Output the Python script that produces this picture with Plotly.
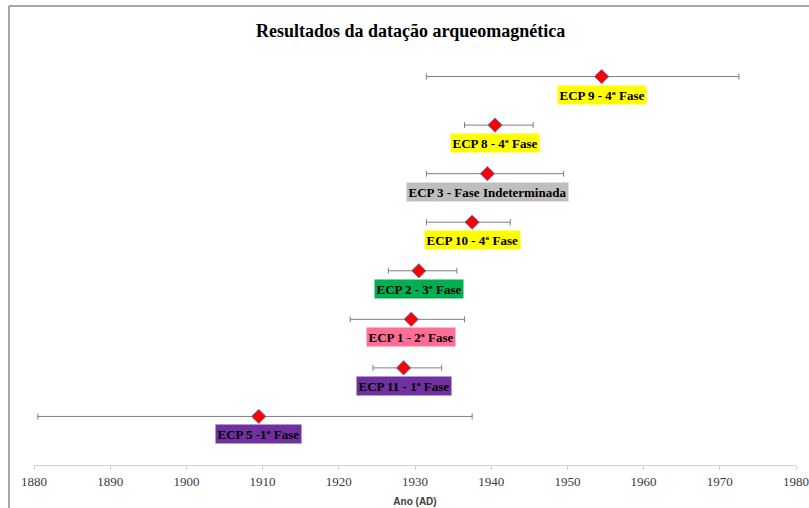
import plotly.graph_objects as go

# Data (order bottom -> top)
samples = ["ECP 5 -1ª Fase", "ECP 11 - 1ª Fase", "ECP 1 - 2ª Fase", "ECP 2 - 3ª Fase",
           "ECP 10 - 4ª Fase", "ECP 3 - Fase Indeterminada", "ECP 8 - 4ª Fase", "ECP 9 - 4ª Fase"]
ages = [1909.5, 1928.5, 1929.5, 1930.5, 1937.5, 1939.5, 1940.5, 1954.5]
err_minus = [29, 4, 8, 4, 6, 8, 4, 23]
err_plus = [28, 5, 7, 5, 5, 10, 5, 18]
positions = [1, 2, 3, 4, 5, 6, 7, 8]
x_ticks = [1880, 1890, 1900, 1910, 1920, 1930, 1940, 1950, 1960, 1970, 1980]

# Style
label_colors = ["#7030A0", "#7030A0", "#FF6F95", "#00B050",
                "#FFFF00", "#BFBFBF", "#FFFF00", "#FFFF00"]

fig = go.Figure()
fig.add_trace(go.Scatter(
    x=ages, y=positions, mode="markers",
    marker=dict(symbol="diamond", size=11, color="#FF0000",
                line=dict(color="#5B7BC0", width=1)),
    error_x=dict(type="data", symmetric=False, array=err_plus, arrayminus=err_minus,
                 color="#7F7F7F", thickness=1, width=3),
    showlegend=False, hoverinfo="skip", cliponaxis=False,
))

annotations = []
for name, x, y, c in zip(samples, ages, positions, label_colors):
    annotations.append(dict(
        x=x, y=y, xref="x", yref="y", text="<b>%s</b>" % name, showarrow=False,
        yshift=-18, bgcolor=c, borderpad=1.5,
        font=dict(family="Liberation Serif, Times New Roman, serif", size=13, color="#000000"),
    ))

W, H = 809, 508
ml, mr, mt, mb = 34.3, 13.3, 28, 43
pw, ph = W - ml - mr, H - mt - mb

annotations.append(dict(
    x=(411 - ml) / pw, y=1 + (mt - 31) / ph, xref="paper", yref="paper",
    text="<b>Resultados da datação arqueomagnética</b>", showarrow=False,
    font=dict(family="Liberation Serif, Times New Roman, serif", size=18, color="#000000"),
    xanchor="center", yanchor="middle",
))

fig.update_layout(
    width=W, height=H,
    margin=dict(l=ml, r=mr, t=mt, b=mb, pad=0, autoexpand=False),
    paper_bgcolor="white", plot_bgcolor="white",
    annotations=annotations,
    xaxis=dict(range=[1880, 1980], tickvals=x_ticks, ticks="outside", ticklen=4,
               tickcolor="#D0D0D0", showline=True, linecolor="#D0D0D0", linewidth=1,
               showgrid=False, zeroline=False, automargin=False,
               tickfont=dict(family="Liberation Serif, Times New Roman, serif", size=13, color="#3A3A3A"),
               title=dict(text="<b>Ano (AD)</b>", standoff=10,
                          font=dict(family="Liberation Sans Narrow, Arial Narrow, Arial, sans-serif",
                                    size=10, color="#404040"))),
    yaxis=dict(range=[0, 9], visible=False, showgrid=False, zeroline=False, automargin=False),
    shapes=[
        dict(type="line", xref="paper", yref="paper",
             x0=(9.3 - ml) / pw, x1=(9.3 - ml) / pw, y0=1 + (mt - 6) / ph, y1=-0.2,
             line=dict(color="#8A8A8A", width=1.5)),
        dict(type="line", xref="paper", yref="paper",
             x0=(9.3 - ml) / pw, x1=1.1, y0=1 + (mt - 6) / ph, y1=1 + (mt - 6) / ph,
             line=dict(color="#8A8A8A", width=1.5)),
    ],
)

fig.write_html("out.html", config={"displayModeBar": False},
               post_script="document.body.style.margin='0px';document.body.style.overflow='hidden';")
